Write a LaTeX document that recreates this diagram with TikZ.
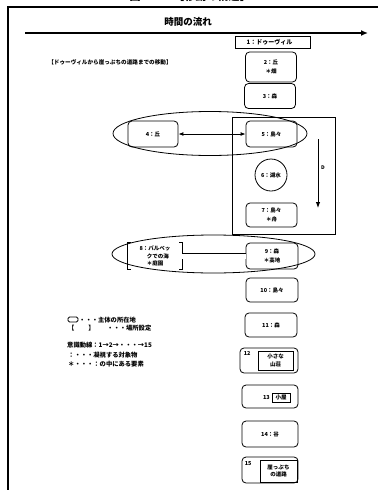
\documentclass[tikz,border=0pt]{standalone}
\usepackage{fontspec}
\setmainfont{Noto Sans CJK JP}
\usetikzlibrary{arrows.meta}
\begin{document}
\begin{tikzpicture}[x=1pt,y=-1pt,
  every node/.style={font=\bfseries\fontsize{5.5}{6.5}\selectfont, inner sep=0pt, align=center},
  rbox/.style={draw, line width=0.8pt, rounded corners=4pt, minimum width=51pt, minimum height=25pt},
  ibox/.style={draw, line width=0.8pt, minimum width=35pt, minimum height=19pt},
  ln/.style={line width=0.8pt},
  lgd/.style={font=\bfseries\fontsize{6.3}{7}\selectfont, anchor=west}]
\useasboundingbox (0,0) rectangle (385,490);
\begin{scope}
\clip (0,0) rectangle (385,490);
% partially visible header
\node[font=\bfseries\fontsize{11}{12}\selectfont] (hdr) at (190,-4) {図２　　【移動の構造】};
% frame
\draw[line width=1.6pt] (8,490) -- (8,7) -- (378,7);
\end{scope}
% time flow
\node[font=\bfseries\fontsize{9.5}{11}\selectfont] (tt) at (188,22) {時間の流れ};
\coordinate (ta) at (25,33);
\coordinate (tb) at (368,33);
\draw[line width=1.3pt, -{Latex[length=7pt,width=6pt]}] (ta) -- (tb);
\node[draw, line width=0.8pt, minimum width=75pt, minimum height=12pt, font=\bfseries\fontsize{6}{7}\selectfont] (n1) at (272.5,42) {1：ドゥーヴィル\hspace{6pt}};
\node[font=\bfseries\fontsize{5.6}{6.5}\selectfont] (hd) at (110,62) {【ドゥーヴィルから崖っぷちの道路までの移動】};
% boxes
\node[rbox, minimum height=30pt] (n2) at (271,67) {2：丘\\[2pt]＊畑};
\node[rbox] (n3) at (270,96) {3：森};
\draw[ln] (210,133.5) ellipse [x radius=97pt, y radius=22pt];
\node[rbox, minimum width=50pt, minimum height=26pt] (n4) at (153,134) {4：丘};
\node[rbox, minimum height=26pt] (n5) at (271.5,134) {5：島々};
\draw[line width=0.9pt, {Latex[length=5pt,width=4pt]}-{Latex[length=5pt,width=4pt]}] (n4) -- (n5);
\node[draw, line width=0.9pt, minimum width=103pt, minimum height=117pt] (big) at (283.5,175.5) {};
\node[draw, circle, line width=0.8pt, minimum size=32pt] (n6) at (271,175) {6：湖水};
\node[rbox, minimum height=24pt] (n7) at (271.5,215) {7：島々\\[2pt]＊舟};
\coordinate (va) at (318,139);
\coordinate (vb) at (318,208);
\draw[line width=0.9pt, -{Latex[length=6pt,width=4.5pt]}] (va) -- (vb);
\node[font=\bfseries\fontsize{5}{6}\selectfont] (vd) at (323,168) {D};
% second group
\draw[ln] (213.5,254) ellipse [x radius=101.5pt, y radius=19pt];
\node[minimum width=54pt, minimum height=26pt, font=\bfseries\fontsize{5.5}{7.5}\selectfont] (n8) at (155,256) {8：バルベッ\\　クでの海\\＊庭園};
\draw[line width=1pt] ([xshift=3pt]n8.north west) -- (n8.north west) -- (n8.south west) -- ([xshift=3pt]n8.south west);
\draw[line width=1pt] ([xshift=-3pt]n8.north east) -- (n8.north east) -- (n8.south east) -- ([xshift=-3pt]n8.south east);
\node[rbox, minimum width=52pt, minimum height=26pt] (n9) at (272,256) {9：森\\[2pt]＊高地};
\draw[line width=0.8pt, double, double distance=5pt] (n8.east) -- (n9.west);
\node[rbox, minimum width=52pt, minimum height=24pt] (n10) at (272,290) {10：島々};
\node[rbox, minimum width=52pt, minimum height=24pt] (n11) at (271,325) {11：森};
\node[rbox, minimum width=58pt, minimum height=25pt] (n12) at (269,360.5) {};
\node[anchor=west] (l12) at ([xshift=4pt]n12.west |- 0,353) {12};
\node[ibox, minimum width=35pt, minimum height=19pt] (b12) at (275.5,360.5) {小さな\\[1pt]山荘};
\node[rbox, minimum width=56pt, minimum height=23pt] (n13) at (270,396.5) {};
\node[anchor=east] (l13) at (270,397) {13};
\node[ibox, minimum width=18pt, minimum height=9pt] (b13) at (281,397.5) {小屋};
\node[rbox, minimum width=56pt, minimum height=26pt] (n14) at (270,434) {14：谷};
\node[rbox, minimum width=56pt, minimum height=26pt] (n15) at (270,470) {};
\node[anchor=west] (l15) at ([xshift=3pt]n15.west |- 0,464) {15};
\node[ibox, minimum width=37pt, minimum height=22pt] (b15) at (278.5,471) {崖っぷち\\[1pt]の道路};
% legend
\node[draw, line width=0.8pt, rounded corners=1.5pt, minimum width=10pt, minimum height=5pt] (lg1) at (73,319.5) {};
\node[lgd] (lt1) at (79,320) {・・・主体の所在地};
\node[lgd] (lg2) at (68,328) {【\hspace{14pt}】};
\node[lgd] (lt2) at (107,328) {・・・場所設定};
\node[lgd] (lt3) at (67,345) {意識動線：1→2→・・・→15};
\node[lgd] (lt4) at (68,355) {：・・・凝視する対象物};
\node[lgd] (lt5) at (68,364.5) {＊・・・：の中にある要素};
\end{tikzpicture}
\end{document}
